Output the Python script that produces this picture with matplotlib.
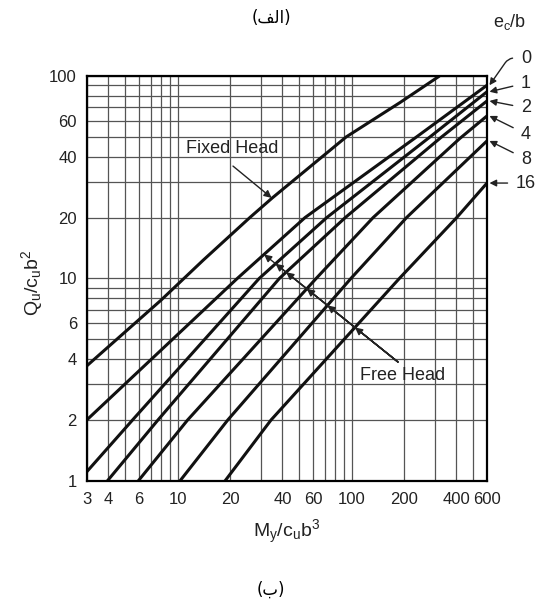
import numpy as np
import matplotlib.pyplot as plt

plt.rcParams['font.family'] = ['Liberation Sans', 'DejaVu Sans']
plt.rcParams['mathtext.fontset'] = 'custom'
plt.rcParams['mathtext.rm'] = 'Liberation Sans'
plt.rcParams['mathtext.it'] = 'Liberation Sans:italic'

# axis ticks and grid
x_ticks = [3, 4, 6, 10, 20, 40, 60, 100, 200, 400, 600]
y_ticks = [1, 2, 4, 6, 10, 20, 40, 60, 100]
x_grid = [3, 4, 5, 6, 7, 8, 9, 10, 20, 30, 40, 50, 60, 70, 80, 90, 100,
          200, 300, 400, 500, 600]
y_grid = [1, 2, 3, 4, 5, 6, 7, 8, 9, 10, 20, 30, 40, 50, 60, 70, 80, 90, 100]

# fixed head curve
fixed_m = [3, 8, 14, 26, 35, 93, 190, 320]
fixed_q = [3.7, 7.8, 12.3, 20, 25, 50, 74, 100]

# free head curves, one per e_c/b
ecb = [0, 1, 2, 4, 8, 16]
free_m = [
    [3, 22, 54, 236, 600],
    [3, 5.5, 29.4, 72, 282, 600],
    [3.94, 7.7, 38.4, 92, 329, 600],
    [5.93, 11.4, 62.5, 133, 417, 600],
    [10.3, 19.4, 99, 207, 600],
    [18.7, 34.4, 188, 402, 600],
]
free_q = [
    [2, 10, 20, 50, 90],
    [1.11, 2, 10, 20, 50, 83.6],
    [1, 2, 10, 20, 50, 75.3],
    [1, 2, 10, 20, 49, 63.5],
    [1, 2, 10, 20, 47.8],
    [1, 2, 10, 20, 29.6],
]
ecb_label_y = [122.7, 92.3, 69.5, 51.7, 38.9, 29.6]


def cross_on_line(m, q, p0, p1):
    # point where polyline (m, q) meets the straight line p0-p1 in log-log space
    lx, ly = np.log10(m), np.log10(q)
    a, b = np.log10(p0), np.log10(p1)
    d = b - a
    s = (lx - a[0]) * d[1] - (ly - a[1]) * d[0]
    i = np.where(np.sign(s[:-1]) != np.sign(s[1:]))[0][0]
    t = s[i] / (s[i] - s[i + 1])
    return 10 ** (lx[i] + t * (lx[i + 1] - lx[i])), 10 ** (ly[i] + t * (ly[i + 1] - ly[i]))


fig = plt.figure(figsize=(5.42, 6.07), dpi=100)
ax = fig.add_axes([0.16, 0.2076, 0.7385, 0.6672])
ax.set_xscale('log')
ax.set_yscale('log')
ax.set_xlim(3, 600)
ax.set_ylim(1, 100)
ax.minorticks_off()
ax.set_xticks(x_grid, [str(v) if v in x_ticks else '' for v in x_grid])
ax.set_yticks(y_grid, [str(v) if v in y_ticks else '' for v in y_grid])
ax.tick_params(length=0, labelsize=12, colors='#222222')
ax.tick_params(axis='x', pad=8)
ax.tick_params(axis='y', pad=7)
ax.grid(True, color='0.33', lw=0.9)
for sp in ax.spines.values():
    sp.set_linewidth(1.6)

ax.plot(fixed_m, fixed_q, color='#111111', lw=2.2, solid_capstyle='butt')
for m, q in zip(free_m, free_q):
    ax.plot(m, q, color='#111111', lw=2.2, solid_capstyle='butt')

ax.set_xlabel(r'$\mathrm{M_y/c_ub^3}$', fontsize=14, labelpad=8, color='#222222')
ax.set_ylabel(r'$\mathrm{Q_u/c_ub^2}$', fontsize=14, color='#222222')
ax.yaxis.set_label_coords(-0.105, 0.49)

# Fixed Head label
ax.text(20.5, 43.6, 'Fixed Head', fontsize=13, ha='center', va='center', color='#222222')
ax.annotate('', xy=(34.7, 25), xytext=(20.8, 35.9),
            arrowprops=dict(arrowstyle='-|>', color='#222222', lw=1, mutation_scale=11,
                            shrinkA=0, shrinkB=0))

# Free Head label with one arrowhead on each free head curve
ax.text(195, 3.33, 'Free Head', fontsize=13, ha='center', va='center', color='#222222')
tail = (184.6, 3.87)
far = (32.6, 12.8)
for m, q in zip(free_m, free_q):
    hit = cross_on_line(m, q, tail, far)
    ax.annotate('', xy=hit, xytext=tail,
                arrowprops=dict(arrowstyle='-|>', color='#222222', lw=1, mutation_scale=11,
                                shrinkA=0, shrinkB=0))

# e_c/b labels on the right
ax.text(813, 185, r'$\mathrm{e_c/b}$', fontsize=13, ha='center', va='center',
        color='#222222', clip_on=False)
for k, (e, q, ly) in enumerate(zip(ecb, free_q, ecb_label_y)):
    cs = 'angle,angleA=0,angleB=55,rad=6' if k == 0 else 'arc3'
    ax.annotate(str(e), xy=(620, q[-1]), xytext=(1005, ly), fontsize=13,
                ha='center', va='center', color='#222222', annotation_clip=False,
                arrowprops=dict(arrowstyle='-|>', color='#222222', lw=1, mutation_scale=10,
                                shrinkA=4, shrinkB=0, connectionstyle=cs))

fig.text(0.5, 0.970, '(\ufed2\ufedf\u0627)', ha='center', va='center', fontsize=12,
         family=['DejaVu Sans'])
fig.text(0.5, 0.028, '(\u0628)', ha='center', va='center', fontsize=12,
         family=['DejaVu Sans'])

fig.savefig('out.png', dpi=100)
